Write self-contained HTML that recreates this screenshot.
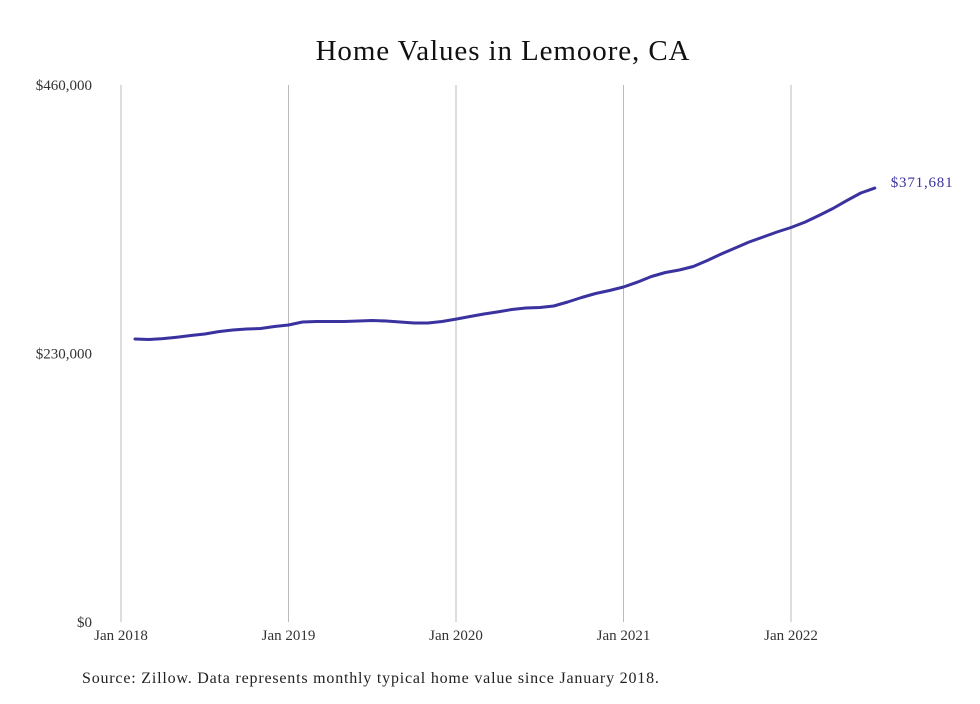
<!DOCTYPE html>
<html><head><meta charset="utf-8"><style>
body{margin:0;background:#fff;width:980px;height:699px;overflow:hidden;font-family:"Liberation Serif",serif;}
svg text{font-family:"Liberation Serif",serif;}
</style></head><body>
<svg id="chart" width="980" height="699" viewBox="0 0 980 699" xmlns="http://www.w3.org/2000/svg">
<text x="503" y="60" text-anchor="middle" font-size="29" letter-spacing="0.9" fill="#111">Home Values in Lemoore, CA</text>
<g id="grid"></g>
<g id="yticks"></g>
<g id="xticks"></g>
<path id="line" fill="none" stroke="#3a329e" stroke-width="3" stroke-linejoin="round" stroke-linecap="round"/>
<text id="endlabel" font-size="15" letter-spacing="0.8" fill="#3a329e"></text>
<text x="82" y="683" font-size="16" letter-spacing="0.8" fill="#222">Source: Zillow. Data represents monthly typical home value since January 2018.</text>
</svg>
<script>
// monthly values in $ thousands, Feb 2018 .. Jul 2022
const values = [242.4,242,242.8,244,245.4,246.7,248.8,250.1,251,251.4,253.1,254.4,257,257.4,257.4,257.4,257.8,258.3,257.8,257,256.1,256.1,257.4,259.5,261.7,263.8,265.6,267.7,269,269.4,270.7,274.1,278,281.4,284,287,291.2,296,299.4,301.5,304.5,309.7,315.2,320.4,325.5,329.8,334.1,337.9,342.6,348.2,354.2,361,367.5,371.681];
const startMonth = 1; // months after Jan 2018
const yTicks = [0,230,460];
const yTickLabels = ["$0","$230,000","$460,000"];
const xTickYears = [2018,2019,2020,2021,2022];
const xTickLabels = ["Jan 2018","Jan 2019","Jan 2020","Jan 2021","Jan 2022"];
const endLabel = "$371,681";

const NS="http://www.w3.org/2000/svg";
const x0=121, pxPerMonth=(791-121)/48, yBase=622, yTop=85, yMax=460;
const xS=m=>x0+m*pxPerMonth;
const yS=v=>yBase-(v/yMax)*(yBase-yTop);
const grid=document.getElementById('grid'), xt=document.getElementById('xticks'), yt=document.getElementById('yticks');
xTickYears.forEach((yr,i)=>{
  const x=xS((yr-2018)*12);
  const l=document.createElementNS(NS,'line');
  
  
  l.setAttribute('x1',x);l.setAttribute('x2',x);l.setAttribute('y1',yTop);l.setAttribute('y2',yBase);
  l.setAttribute('stroke','#bbb');l.setAttribute('stroke-width','1');
  grid.appendChild(l);
  const t=document.createElementNS(NS,'text');
  
  
  t.setAttribute('x',x);t.setAttribute('y',640);t.setAttribute('text-anchor','middle');
  t.setAttribute('font-size','15');t.setAttribute('fill','#333');
  t.textContent=xTickLabels[i];xt.appendChild(t);
});
yTicks.forEach((v,i)=>{
  const t=document.createElementNS(NS,'text');
  
  
  t.setAttribute('x',92);t.setAttribute('y',yS(v)+5);t.setAttribute('text-anchor','end');
  t.setAttribute('font-size','15');t.setAttribute('fill','#333');
  t.textContent=yTickLabels[i];yt.appendChild(t);
});
let d='';
values.forEach((v,i)=>{d+=(i?'L':'M')+xS(startMonth+i).toFixed(1)+','+yS(v).toFixed(1);});
document.getElementById('line').setAttribute('d',d);
const last=values.length-1;
const el=document.getElementById('endlabel');
el.setAttribute('x',xS(startMonth+last)+16);el.setAttribute('y',yS(values[last])-1);
el.textContent=endLabel;
</script>
</body></html>
